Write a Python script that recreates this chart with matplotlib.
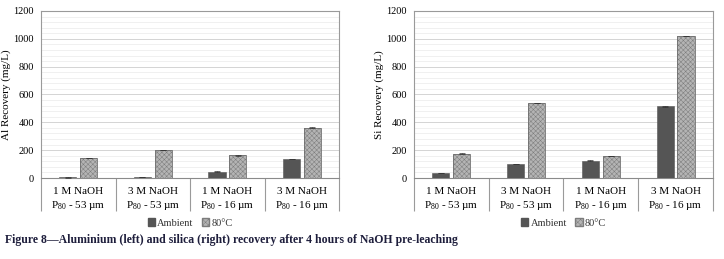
import matplotlib
matplotlib.use("Agg")
import matplotlib.pyplot as plt
import numpy as np
from matplotlib.patches import Patch

plt.rcParams["font.family"] = ["Liberation Serif", "DejaVu Serif"]
plt.rcParams["mathtext.fontset"] = "custom"
plt.rcParams["mathtext.rm"] = "Liberation Serif"
plt.rcParams["hatch.linewidth"] = 0.35

# ── Data ──────────────────────────────────────────────────────────────────────
conc_labels = ["1 M NaOH", "3 M NaOH", "1 M NaOH", "3 M NaOH"]
size_labels = [r"P$_{\mathregular{80}}$ - 53 µm", r"P$_{\mathregular{80}}$ - 53 µm",
               r"P$_{\mathregular{80}}$ - 16 µm", r"P$_{\mathregular{80}}$ - 16 µm"]
al_ambient = [5, 8, 45, 135]
al_80c     = [143, 200, 163, 362]
si_ambient = [35, 100, 125, 515]
si_80c     = [175, 540, 158, 1020]
err_small  = [2, 2, 2, 2]

DARK   = "#555555"
LIGHT  = "#b4b4b4"
HATCH  = "#7c7c7c"
SPINE  = "#9a9a9a"
CAPTION_COLOR = "#1e1e3c"

fig = plt.figure(figsize=(7.24, 2.59), dpi=100)
ax_al = fig.add_axes([0.0566, 0.3127, 0.412, 0.645])
ax_si = fig.add_axes([0.5718, 0.3127, 0.413, 0.645])


def draw_panel(ax, ambient, hot, ylabel):
    x = np.arange(len(conc_labels))
    w, off = 0.23, 0.14
    ax.bar(x - off, ambient, w, color=DARK, edgecolor=DARK, linewidth=0.4,
           yerr=err_small, error_kw=dict(ecolor="#333333", elinewidth=0.5, capsize=2, capthick=0.5),
           zorder=3)
    ax.bar(x + off, hot, w, color=LIGHT, edgecolor=HATCH, hatch="xxxxxxx", linewidth=0,
           zorder=3)
    ax.bar(x + off, hot, w, fill=False, edgecolor="#6e6e6e", linewidth=0.6,
           yerr=err_small, error_kw=dict(ecolor="#333333", elinewidth=0.5, capsize=2, capthick=0.5),
           zorder=4)

    ax.set_xlim(-0.5, 3.5)
    ax.set_ylim(0, 1200)
    ax.set_yticks(np.arange(0, 1201, 200))
    ax.set_yticks(np.arange(0, 1201, 40), minor=True)
    ax.tick_params(axis="y", which="both", length=0, labelsize=7.5, pad=5)
    ax.grid(axis="y", which="major", color="#d4d4d4", linewidth=0.7, zorder=0)
    ax.grid(axis="y", which="minor", color="#eeeeee", linewidth=0.6, zorder=0)
    ax.set_axisbelow(True)

    # category separators as long ticks below the axis
    ax.set_xticks(np.arange(-0.5, 3.6, 1.0))
    ax.set_xticklabels([])
    ax.tick_params(axis="x", length=24, width=0.8, color=SPINE, direction="out")
    for i in x:
        ax.annotate(conc_labels[i], (i, 0), xycoords=("data", "axes fraction"),
                    xytext=(0, -10), textcoords="offset points",
                    ha="center", va="center", fontsize=8)
        ax.annotate(size_labels[i], (i, 0), xycoords=("data", "axes fraction"),
                    xytext=(0, -19.5), textcoords="offset points",
                    ha="center", va="center", fontsize=8)

    for s in ax.spines.values():
        s.set_color(SPINE)
        s.set_linewidth(0.8)
    ax.spines["bottom"].set_color("#8a8a8a")

    ax.set_ylabel(ylabel, fontsize=8, labelpad=2)

    handles = [Patch(facecolor=DARK, edgecolor=DARK, label="Ambient"),
               Patch(facecolor=LIGHT, edgecolor=HATCH, hatch="xxxxxx", label="80°C")]
    ax.legend(handles=handles, loc="center", bbox_to_anchor=(0.5, -0.27), ncol=2,
              frameon=False, fontsize=7.5, handlelength=0.7, handleheight=0.7,
              handletextpad=0.2, columnspacing=0.8, labelcolor="#333333")


draw_panel(ax_al, al_ambient, al_80c, "Al Recovery (mg/L)")
draw_panel(ax_si, si_ambient, si_80c, "Si Recovery (mg/L)")

fig.text(0.007, 0.073,
         "Figure 8\u2014Aluminium (left) and silica (right) recovery after 4 hours of NaOH pre-leaching",
         fontsize=8.5, fontweight="bold", color=CAPTION_COLOR, ha="left", va="center")

fig.savefig("out.png", dpi=100)
